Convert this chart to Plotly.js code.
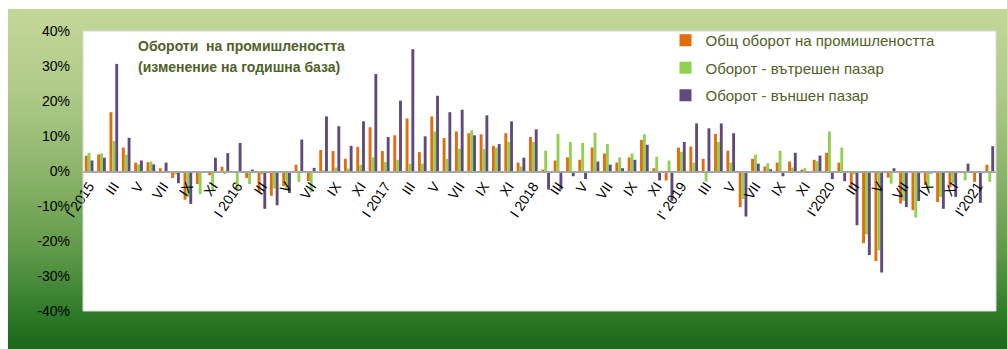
<!DOCTYPE html>
<html>
<head>
<meta charset="utf-8">
<script src="https://cdn.plot.ly/plotly-3.0.1.min.js"></script>
<style>
  html, body { margin: 0; padding: 0; background: #ffffff; }
  #wrap { position: relative; width: 1007px; height: 349px; overflow: hidden; }
  #bg { position: absolute; left: 8px; top: 9px; width: 999px; height: 340px;
        background: linear-gradient(to bottom, #c4d79b 0%, #aeca88 25%, #8cb46a 48%, #5e9948 72%, #327d2c 88%, #1b6618 100%); }
  #chart { position: absolute; left: 0; top: 0; width: 1007px; height: 349px; }
</style>
</head>
<body>
<div id="wrap">
  <div id="bg"></div>
  <div id="chart"></div>
</div>
<script>
const months = [
  "2015-01","2015-02","2015-03","2015-04","2015-05","2015-06","2015-07","2015-08","2015-09","2015-10","2015-11","2015-12",
  "2016-01","2016-02","2016-03","2016-04","2016-05","2016-06","2016-07","2016-08","2016-09","2016-10","2016-11","2016-12",
  "2017-01","2017-02","2017-03","2017-04","2017-05","2017-06","2017-07","2017-08","2017-09","2017-10","2017-11","2017-12",
  "2018-01","2018-02","2018-03","2018-04","2018-05","2018-06","2018-07","2018-08","2018-09","2018-10","2018-11","2018-12",
  "2019-01","2019-02","2019-03","2019-04","2019-05","2019-06","2019-07","2019-08","2019-09","2019-10","2019-11","2019-12",
  "2020-01","2020-02","2020-03","2020-04","2020-05","2020-06","2020-07","2020-08","2020-09","2020-10","2020-11","2020-12",
  "2021-01","2021-02"
];

const totalTurnover = [
  4.4, 4.7, 16.8, 6.7, 2.4, 2.5, 0.8, -2.0, -8.2, -3.7, -1.2, 1.2,
  -0.5, -2.0, -6.0, -7.1, -4.3, 1.8, -2.9, 6.0, 5.7, 3.5, 6.9, 12.5,
  5.7, 10.2, 15.0, 5.4, 15.6, 9.4, 11.3, 10.8, 10.5, 7.2, 10.8, 2.4,
  9.7, 0.4, 3.0, 3.9, 3.2, 6.7, 5.0, 2.4, 3.9, 8.9, 0.8, -2.7,
  6.7, 7.0, 3.5, 10.6, 5.8, -10.3, 3.5, 1.3, 2.4, 2.7, 0.4, 3.2,
  5.2, 2.4, -5.0, -20.6, -25.7, -1.9, -9.3, -11.2, -4.0, -8.9, -4.7, -0.6,
  -3.1, 1.8
];

const domesticMarket = [
  5.2, 5.0, 8.6, 4.7, 1.9, 2.7, 0.0, -1.0, -7.5, -6.6, -5.8, -0.9,
  -5.8, -3.7, -1.0, -5.0, -5.2, -3.1, -6.1, 0.2, 1.0, 0.7, 1.8, 3.9,
  2.6, 3.2, 2.1, 2.1, 11.3, 3.5, 6.4, 11.6, 6.3, 6.7, 8.3, 1.3,
  8.3, 5.8, 10.6, 8.3, 8.0, 10.9, 7.7, 3.9, 5.0, 10.5, 4.1, 3.0,
  5.5, 2.4, -3.0, 8.3, 2.4, -8.0, 4.7, 2.2, 5.8, 1.0, 0.8, 2.8,
  11.3, 6.7, -1.0, -18.1, -22.7, -3.6, -8.5, -13.3, -5.5, -7.4, -3.4, -2.7,
  -0.6, -3.1
];

const foreignMarket = [
  3.0, 3.8, 30.6, 9.5, 3.0, 1.9, 2.4, -3.5, -9.4, 0.0, 3.8, 5.1,
  8.0, 0.4, -10.8, -9.8, -6.3, 9.0, 0.9, 15.6, 12.8, 7.2, 14.2, 27.7,
  9.7, 20.1, 34.8, 9.9, 21.5, 16.8, 17.5, 10.2, 15.9, 7.7, 14.2, 3.8,
  11.9, -5.3, -5.3, -1.5, -2.3, 2.7, 1.8, 0.8, 3.2, 7.5, -2.7, -8.5,
  8.3, 13.6, 12.2, 13.6, 10.8, -13.0, 2.1, 0.5, -1.5, 5.2, 0.0, 4.4,
  -2.3, -2.9, -15.5, -24.0, -29.0, 0.8, -10.3, -8.6, -0.7, -10.8, -7.4, 2.1,
  -9.1, 7.1
];

const tickMonths = [
  "2015-01","2015-03","2015-05","2015-07","2015-09","2015-11",
  "2016-01","2016-03","2016-05","2016-07","2016-09","2016-11",
  "2017-01","2017-03","2017-05","2017-07","2017-09","2017-11",
  "2018-01","2018-03","2018-05","2018-07","2018-09","2018-11",
  "2019-01","2019-03","2019-05","2019-07","2019-09","2019-11",
  "2020-01","2020-03","2020-05","2020-07","2020-09","2020-11",
  "2021-01"
];
const tickLabels = [
  "I 2015","III","V","VII","IX","XI",
  "I 2016","III","V","VII","IX","XI",
  "I 2017","III","V","VII","IX","XI",
  "I 2018","III","V","VII","IX","XI",
  "I' 2019","III","V","VII","IX","XI",
  "I'2020","III","V","VII","IX","XI",
  "I'2021"
];

const yTickVals = [-40, -30, -20, -10, 0, 10, 20, 30, 40];
const yTickText = ["-40%","-30%","-20%","-10%","0%","10%","20%","30%","40%"];

const seriesNames = ["Общ оборот на промишлеността", "Оборот - вътрешен пазар", "Оборот - външен пазар"];
const seriesColors = ["#E46C0A", "#92D050", "#604A7B"];
const seriesData = [totalTurnover, domesticMarket, foreignMarket];

const traces = seriesData.map((vals, i) => ({
  type: "bar",
  x: months,
  y: vals,
  name: seriesNames[i],
  legendgroup: "g" + i,
  marker: { color: seriesColors[i], line: { width: 0 } },
  hoverinfo: "x+y+name"
}));

const FONT = "Liberation Sans, Arial, sans-serif";

const layout = {
  width: 1007,
  height: 349,
  margin: { l: 83, r: 11, t: 31, b: 38, pad: 0 },
  paper_bgcolor: "rgba(0,0,0,0)",
  plot_bgcolor: "#ffffff",
  barmode: "group",
  bargap: 0.3,
  bargroupgap: 0,
  font: { family: FONT, size: 14, color: "#000000" },
  showlegend: true,
  legend: {
    x: 0.638, y: 1.025, xanchor: "left", yanchor: "top",
    bgcolor: "rgba(0,0,0,0)",
    font: { family: FONT, size: 15, color: "#4F6228" },
    itemwidth: 30,
    traceorder: "grouped",
    tracegroupgap: 5
  },
  xaxis: {
    type: "category",
    anchor: "free",
    position: 0.5,
    showline: true,
    linecolor: "#a6a6a6",
    linewidth: 1.5,
    showgrid: false,
    zeroline: false,
    ticks: "",
    tickmode: "array",
    tickvals: tickMonths,
    ticktext: tickLabels,
    tickangle: -56,
    tickfont: { family: FONT, size: 14, color: "#000000" },
    fixedrange: true
  },
  yaxis: {
    range: [-40, 40],
    showgrid: false,
    zeroline: false,
    showline: false,
    ticks: "",
    tickmode: "array",
    tickvals: yTickVals,
    ticktext: yTickText,
    ticklabelstandoff: 12,
    tickfont: { family: FONT, size: 14, color: "#000000" },
    fixedrange: true
  },
  shapes: [{
    type: "rect", xref: "paper", yref: "paper",
    x0: 0, x1: 1, y0: 0, y1: 1,
    line: { color: "#d9d9d9", width: 1 },
    fillcolor: "rgba(0,0,0,0)"
  }],
  annotations: [
    {
      xref: "paper", yref: "paper", x: 0.058, y: 0.945, xanchor: "left", yanchor: "middle",
      text: "<b>Обороти  на промишлеността</b>", showarrow: false,
      font: { family: FONT, size: 14, color: "#4F6228" }
    },
    {
      xref: "paper", yref: "paper", x: 0.058, y: 0.872, xanchor: "left", yanchor: "middle",
      text: "<b>(изменение на годишна база)</b>", showarrow: false,
      font: { family: FONT, size: 14, color: "#4F6228" }
    }
  ]
};

Plotly.newPlot("chart", traces, layout, { displayModeBar: false, staticPlot: true });
</script>
</body>
</html>
